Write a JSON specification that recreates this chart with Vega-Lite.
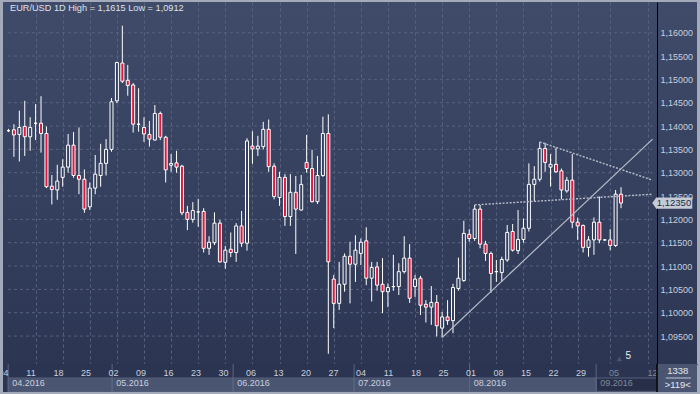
{
  "$schema": "https://vega.github.io/schema/vega-lite/v6.json",
  "autosize": {"type": "pad"},
  "padding": {"left": 3, "top": 2, "right": 3, "bottom": 2},
  "background": "#a3abbb",
  "spacing": 0,
  "bounds": "flush",
  "config": {
    "font": "Liberation Sans",
    "locale": {"number": {"decimal": ",", "thousands": ".", "grouping": [3], "currency": ["", " €"]}},
    "view": {"stroke": null},
    "axis": {"title": null}
  },
  "resolve": {"scale": {"x": "independent", "y": "independent"}},
  "datasets": {
    "candles": [
      {"i":0,"o":1.1390,"h":1.1394,"l":1.1387,"c":1.1390},
      {"i":1,"o":1.1392,"h":1.1404,"l":1.1334,"c":1.1381},
      {"i":2,"o":1.1382,"h":1.1433,"l":1.1324,"c":1.1397},
      {"i":3,"o":1.1399,"h":1.1454,"l":1.1336,"c":1.1377},
      {"i":4,"o":1.1377,"h":1.1419,"l":1.1347,"c":1.1397},
      {"i":5,"o":1.1406,"h":1.1447,"l":1.1370,"c":1.1406},
      {"i":6,"o":1.1406,"h":1.1464,"l":1.1343,"c":1.1384},
      {"i":7,"o":1.1384,"h":1.1399,"l":1.1267,"c":1.1270},
      {"i":8,"o":1.1271,"h":1.1295,"l":1.1232,"c":1.1264},
      {"i":9,"o":1.1263,"h":1.1317,"l":1.1242,"c":1.1282},
      {"i":10,"o":1.1290,"h":1.1329,"l":1.1270,"c":1.1312},
      {"i":11,"o":1.1312,"h":1.1383,"l":1.1300,"c":1.1359},
      {"i":12,"o":1.1359,"h":1.1387,"l":1.1289,"c":1.1294},
      {"i":13,"o":1.1294,"h":1.1397,"l":1.1254,"c":1.1286},
      {"i":14,"o":1.1286,"h":1.1307,"l":1.1214,"c":1.1222},
      {"i":15,"o":1.1227,"h":1.1279,"l":1.1220,"c":1.1267},
      {"i":16,"o":1.1267,"h":1.1338,"l":1.1254,"c":1.1297},
      {"i":17,"o":1.1294,"h":1.1362,"l":1.1270,"c":1.1320},
      {"i":18,"o":1.1320,"h":1.1372,"l":1.1294,"c":1.1350},
      {"i":19,"o":1.1350,"h":1.1460,"l":1.1345,"c":1.1452},
      {"i":20,"o":1.1454,"h":1.1538,"l":1.1449,"c":1.1536},
      {"i":21,"o":1.1535,"h":1.1615,"l":1.1492,"c":1.1496},
      {"i":22,"o":1.1498,"h":1.1531,"l":1.1465,"c":1.1487},
      {"i":23,"o":1.1488,"h":1.1492,"l":1.1386,"c":1.1404},
      {"i":24,"o":1.1404,"h":1.1481,"l":1.1388,"c":1.1404},
      {"i":25,"o":1.1397,"h":1.1419,"l":1.1366,"c":1.1383},
      {"i":26,"o":1.1382,"h":1.1411,"l":1.1356,"c":1.1372},
      {"i":27,"o":1.1370,"h":1.1445,"l":1.1369,"c":1.1427},
      {"i":28,"o":1.1427,"h":1.1431,"l":1.1370,"c":1.1376},
      {"i":29,"o":1.1376,"h":1.1379,"l":1.1279,"c":1.1306},
      {"i":30,"o":1.1316,"h":1.1340,"l":1.1302,"c":1.1320},
      {"i":31,"o":1.1321,"h":1.1347,"l":1.1300,"c":1.1312},
      {"i":32,"o":1.1314,"h":1.1317,"l":1.1209,"c":1.1214},
      {"i":33,"o":1.1215,"h":1.1229,"l":1.1177,"c":1.1200},
      {"i":34,"o":1.1200,"h":1.1237,"l":1.1193,"c":1.1219},
      {"i":35,"o":1.1216,"h":1.1244,"l":1.1184,"c":1.1216},
      {"i":36,"o":1.1217,"h":1.1224,"l":1.1129,"c":1.1138},
      {"i":37,"o":1.1138,"h":1.1164,"l":1.1124,"c":1.1151},
      {"i":38,"o":1.1150,"h":1.1215,"l":1.1145,"c":1.1192},
      {"i":39,"o":1.1192,"h":1.1199,"l":1.1107,"c":1.1109},
      {"i":40,"o":1.1108,"h":1.1143,"l":1.1094,"c":1.1134},
      {"i":41,"o":1.1136,"h":1.1172,"l":1.1119,"c":1.1129},
      {"i":42,"o":1.1129,"h":1.1192,"l":1.1109,"c":1.1186},
      {"i":43,"o":1.1186,"h":1.1218,"l":1.1141,"c":1.1149},
      {"i":44,"o":1.1149,"h":1.1374,"l":1.1133,"c":1.1368},
      {"i":45,"o":1.1357,"h":1.1389,"l":1.1319,"c":1.1351},
      {"i":46,"o":1.1351,"h":1.1379,"l":1.1336,"c":1.1357},
      {"i":47,"o":1.1356,"h":1.1409,"l":1.1350,"c":1.1393},
      {"i":48,"o":1.1393,"h":1.1414,"l":1.1302,"c":1.1313},
      {"i":49,"o":1.1314,"h":1.1320,"l":1.1243,"c":1.1249},
      {"i":50,"o":1.1247,"h":1.1302,"l":1.1229,"c":1.1290},
      {"i":51,"o":1.1290,"h":1.1297,"l":1.1186,"c":1.1206},
      {"i":52,"o":1.1206,"h":1.1297,"l":1.1186,"c":1.1258},
      {"i":53,"o":1.1258,"h":1.1293,"l":1.1126,"c":1.1222},
      {"i":54,"o":1.1220,"h":1.1295,"l":1.1219,"c":1.1275},
      {"i":55,"o":1.1322,"h":1.1381,"l":1.1300,"c":1.1309},
      {"i":56,"o":1.1309,"h":1.1349,"l":1.1236,"c":1.1238},
      {"i":57,"o":1.1238,"h":1.1336,"l":1.1233,"c":1.1294},
      {"i":58,"o":1.1294,"h":1.1420,"l":1.1291,"c":1.1384},
      {"i":59,"o":1.1384,"h":1.1425,"l":1.0912,"c":1.1109},
      {"i":60,"o":1.1072,"h":1.1081,"l":1.0967,"c":1.1020},
      {"i":61,"o":1.1020,"h":1.1109,"l":1.1006,"c":1.1061},
      {"i":62,"o":1.1061,"h":1.1127,"l":1.1045,"c":1.1121},
      {"i":63,"o":1.1121,"h":1.1152,"l":1.1020,"c":1.1104},
      {"i":64,"o":1.1104,"h":1.1166,"l":1.1066,"c":1.1134},
      {"i":65,"o":1.1127,"h":1.1159,"l":1.1102,"c":1.1151},
      {"i":66,"o":1.1154,"h":1.1183,"l":1.1059,"c":1.1074},
      {"i":67,"o":1.1074,"h":1.1109,"l":1.1024,"c":1.1097},
      {"i":68,"o":1.1098,"h":1.1109,"l":1.1047,"c":1.1059},
      {"i":69,"o":1.1061,"h":1.1117,"l":1.0999,"c":1.1045},
      {"i":70,"o":1.1045,"h":1.1063,"l":1.1012,"c":1.1054},
      {"i":71,"o":1.1056,"h":1.1124,"l":1.1047,"c":1.1056},
      {"i":72,"o":1.1056,"h":1.1106,"l":1.1038,"c":1.1088},
      {"i":73,"o":1.1088,"h":1.1164,"l":1.1084,"c":1.1117},
      {"i":74,"o":1.1117,"h":1.1147,"l":1.1021,"c":1.1031},
      {"i":75,"o":1.1056,"h":1.1081,"l":1.1034,"c":1.1072},
      {"i":76,"o":1.1074,"h":1.1079,"l":1.0995,"c":1.1016},
      {"i":77,"o":1.1018,"h":1.1027,"l":1.0979,"c":1.1012},
      {"i":78,"o":1.1012,"h":1.1057,"l":1.0974,"c":1.1022},
      {"i":79,"o":1.1022,"h":1.1038,"l":1.0949,"c":1.0972},
      {"i":80,"o":1.0967,"h":1.1002,"l":1.0947,"c":1.0991},
      {"i":81,"o":1.0991,"h":1.1027,"l":1.0974,"c":1.0983},
      {"i":82,"o":1.0983,"h":1.1062,"l":1.0956,"c":1.1054},
      {"i":83,"o":1.1052,"h":1.1118,"l":1.1047,"c":1.1074},
      {"i":84,"o":1.1069,"h":1.1197,"l":1.1066,"c":1.1170},
      {"i":85,"o":1.1168,"h":1.1179,"l":1.1152,"c":1.1159},
      {"i":86,"o":1.1159,"h":1.1231,"l":1.1154,"c":1.1222},
      {"i":87,"o":1.1222,"h":1.1231,"l":1.1138,"c":1.1147},
      {"i":88,"o":1.1147,"h":1.1154,"l":1.1111,"c":1.1127},
      {"i":89,"o":1.1127,"h":1.1131,"l":1.1043,"c":1.1084},
      {"i":90,"o":1.1088,"h":1.1113,"l":1.1066,"c":1.1088},
      {"i":91,"o":1.1086,"h":1.1120,"l":1.1066,"c":1.1114},
      {"i":92,"o":1.1113,"h":1.1188,"l":1.1109,"c":1.1172},
      {"i":93,"o":1.1174,"h":1.1190,"l":1.1131,"c":1.1134},
      {"i":94,"o":1.1133,"h":1.1220,"l":1.1126,"c":1.1157},
      {"i":95,"o":1.1157,"h":1.1202,"l":1.1150,"c":1.1181},
      {"i":96,"o":1.1181,"h":1.1320,"l":1.1174,"c":1.1275},
      {"i":97,"o":1.1275,"h":1.1314,"l":1.1238,"c":1.1286},
      {"i":98,"o":1.1286,"h":1.1366,"l":1.1281,"c":1.1352},
      {"i":99,"o":1.1352,"h":1.1364,"l":1.1302,"c":1.1322},
      {"i":100,"o":1.1312,"h":1.1340,"l":1.1270,"c":1.1318},
      {"i":101,"o":1.1318,"h":1.1354,"l":1.1300,"c":1.1302},
      {"i":102,"o":1.1304,"h":1.1309,"l":1.1243,"c":1.1263},
      {"i":103,"o":1.1261,"h":1.1291,"l":1.1257,"c":1.1284},
      {"i":104,"o":1.1284,"h":1.1340,"l":1.1181,"c":1.1194},
      {"i":105,"o":1.1194,"h":1.1204,"l":1.1156,"c":1.1186},
      {"i":106,"o":1.1187,"h":1.1189,"l":1.1129,"c":1.1140},
      {"i":107,"o":1.1140,"h":1.1164,"l":1.1120,"c":1.1156},
      {"i":108,"o":1.1156,"h":1.1204,"l":1.1124,"c":1.1194},
      {"i":109,"o":1.1194,"h":1.1249,"l":1.1149,"c":1.1156},
      {"i":110,"o":1.1156,"h":1.1158,"l":1.1154,"c":1.1156},
      {"i":111,"o":1.1156,"h":1.1179,"l":1.1134,"c":1.1144},
      {"i":112,"o":1.1144,"h":1.1263,"l":1.1141,"c":1.1254},
      {"i":113,"o":1.1254,"h":1.1269,"l":1.1224,"c":1.1235}
    ],
    "grid": [
      {"p":1.095},{"p":1.100},{"p":1.105},{"p":1.110},{"p":1.115},{"p":1.120},{"p":1.125},
      {"p":1.130},{"p":1.135},{"p":1.140},{"p":1.145},{"p":1.150},{"p":1.155},{"p":1.160}
    ],
    "solid": [{"i":80,"p":1.0947},{"i":118.82,"p":1.1372}],
    "dashed": [
      {"line":"upper","i":98,"p":1.1366},{"line":"upper","i":118.82,"p":1.1284},
      {"line":"lower","i":86,"p":1.1231},{"line":"lower","i":118.82,"p":1.1254}
    ],
    "last": [{"p":1.1235}],
    "marker": [{"label":"5"}],
    "heading": [{"label":"EUR/USD 1D High = 1,1615 Low = 1,0912"}],
    "days": [
      {"i":0,"label":"04","future":false},{"i":5,"label":"11","future":false},{"i":10,"label":"18","future":false},
      {"i":15,"label":"25","future":false},{"i":20,"label":"02","future":false},{"i":25,"label":"09","future":false},
      {"i":30,"label":"16","future":false},{"i":35,"label":"23","future":false},{"i":40,"label":"30","future":false},
      {"i":45,"label":"06","future":false},{"i":50,"label":"13","future":false},{"i":55,"label":"20","future":false},
      {"i":60,"label":"27","future":false},{"i":65,"label":"04","future":false},{"i":70,"label":"11","future":false},
      {"i":75,"label":"18","future":false},{"i":80,"label":"25","future":false},{"i":85,"label":"01","future":false},
      {"i":90,"label":"08","future":false},{"i":95,"label":"15","future":false},{"i":100,"label":"22","future":false},
      {"i":105,"label":"29","future":false},{"i":111,"label":"05","future":true},{"i":118,"label":"12","future":true}
    ],
    "months": [
      {"s":0.85,"e":19.75,"label":"04.2016","cur":false},
      {"s":19.75,"e":41.75,"label":"05.2016","cur":false},
      {"s":41.75,"e":63.75,"label":"06.2016","cur":false},
      {"s":63.75,"e":84.75,"label":"07.2016","cur":false},
      {"s":84.75,"e":107.75,"label":"08.2016","cur":false},
      {"s":107.75,"e":118.82,"label":"09.2016","cur":true}
    ],
    "info": [{"row":"d","label":"1338"},{"row":"m","label":">119<"}]
  },
  "vconcat": [
    {
      "width": 694,
      "height": 362,
      "view": {
        "fill": {"gradient": "linear", "x1": 0, "y1": 0, "x2": 0, "y2": 1,
          "stops": [{"offset": 0, "color": "#404b6a"}, {"offset": 0.5, "color": "#36415f"}, {"offset": 1, "color": "#2c3653"}]},
        "stroke": null
      },
      "resolve": {"axis": {"x": "independent", "y": "independent"}},
      "layer": [
        {
          "data": {"name": "grid"},
          "mark": {"type": "rule", "color": "#56627f", "strokeDash": [3, 3], "strokeWidth": 1},
          "encoding": {
            "y": {"field": "p", "type": "quantitative", "scale": {"domain": [1.08901, 1.16658], "nice": false, "zero": false}, "axis": null},
            "x": {"datum": -0.0909, "type": "quantitative", "scale": {"domain": [-0.0909, 126.09], "nice": false, "zero": false}, "axis": null},
            "x2": {"datum": 118.82}
          }
        },
        {
          "data": {"name": "candles"},
          "mark": {"type": "rule", "color": "#ffffff", "strokeWidth": 1},
          "encoding": {
            "x": {"field": "i", "type": "quantitative", "scale": {"domain": [-0.0909, 126.09], "nice": false, "zero": false},
              "axis": {"orient": "bottom", "values": [5,10,15,20,25,30,35,40,45,50,55,60,65,70,75,80,85,90,95,100,105,111,118],
                "grid": true, "gridColor": "#56627f", "gridDash": [3, 3], "gridWidth": 1,
                "labels": false, "ticks": false, "domain": true, "domainColor": "#000000", "domainWidth": 1, "title": null}},
            "y": {"field": "l", "type": "quantitative", "scale": {"domain": [1.08901, 1.16658], "nice": false, "zero": false},
              "axis": {"orient": "right", "offset": -40, "values": [1.095,1.1,1.105,1.11,1.115,1.12,1.125,1.13,1.135,1.14,1.145,1.15,1.155,1.16],
                "format": ".5f", "grid": false, "ticks": false, "domain": true, "domainColor": "#000000", "domainWidth": 1,
                "labelColor": "#c8cfdf", "labelFont": "Liberation Sans", "labelFontSize": 9, "labelPadding": 3, "labelAlign": "left", "labelBaseline": "middle", "title": null}},
            "y2": {"field": "h"}
          }
        },
        {
          "data": {"name": "candles"},
          "mark": {"type": "bar", "size": 3, "stroke": "#ffffff", "strokeWidth": 1},
          "encoding": {
            "x": {"field": "i", "type": "quantitative", "scale": {"domain": [-0.0909, 126.09], "nice": false, "zero": false}, "axis": null},
            "y": {"field": "o", "type": "quantitative", "scale": {"domain": [1.08901, 1.16658], "nice": false, "zero": false}, "axis": null},
            "y2": {"field": "c"},
            "fill": {"condition": {"test": "datum.c < datum.o", "value": "#e3173e"}, "value": "#35405e"}
          }
        },
        {
          "data": {"name": "solid"},
          "mark": {"type": "line", "color": "#b8bcc8", "strokeWidth": 1.2},
          "encoding": {
            "x": {"field": "i", "type": "quantitative", "scale": {"domain": [-0.0909, 126.09], "nice": false, "zero": false}, "axis": null},
            "y": {"field": "p", "type": "quantitative", "scale": {"domain": [1.08901, 1.16658], "nice": false, "zero": false}, "axis": null}
          }
        },
        {
          "data": {"name": "dashed"},
          "mark": {"type": "line", "color": "#b8bcc8", "strokeWidth": 1.4, "strokeDash": [2, 1.5]},
          "encoding": {
            "x": {"field": "i", "type": "quantitative", "scale": {"domain": [-0.0909, 126.09], "nice": false, "zero": false}, "axis": null},
            "y": {"field": "p", "type": "quantitative", "scale": {"domain": [1.08901, 1.16658], "nice": false, "zero": false}, "axis": null},
            "detail": {"field": "line", "type": "nominal"}
          }
        },
        {
          "data": {"name": "last"},
          "mark": {"type": "point", "shape": "M-1,0L-0.8,-0.28L1,-0.28L1,0.28L-0.8,0.28Z", "size": 1600, "filled": true, "fill": "#c5cad5", "opacity": 1, "strokeWidth": 0},
          "encoding": {
            "x": {"datum": 122.45, "type": "quantitative", "scale": {"domain": [-0.0909, 126.09], "nice": false, "zero": false}, "axis": null},
            "y": {"field": "p", "type": "quantitative", "scale": {"domain": [1.08901, 1.16658], "nice": false, "zero": false}, "axis": null}
          }
        },
        {
          "data": {"name": "last"},
          "mark": {"type": "text", "align": "left", "baseline": "middle", "fontSize": 9.5, "color": "#222c44", "font": "Liberation Sans"},
          "encoding": {
            "x": {"datum": 119.6, "type": "quantitative", "scale": {"domain": [-0.0909, 126.09], "nice": false, "zero": false}, "axis": null},
            "y": {"field": "p", "type": "quantitative", "scale": {"domain": [1.08901, 1.16658], "nice": false, "zero": false}, "axis": null},
            "text": {"field": "p", "type": "quantitative", "format": ".5f"}
          }
        },
        {
          "data": {"name": "marker"},
          "mark": {"type": "point", "shape": "triangle-up", "size": 28, "filled": true, "fill": "#4a5573", "opacity": 1},
          "encoding": {
            "x": {"datum": 112.7, "type": "quantitative", "scale": {"domain": [-0.0909, 126.09], "nice": false, "zero": false}, "axis": null},
            "y": {"datum": 1.0901, "type": "quantitative", "scale": {"domain": [1.08901, 1.16658], "nice": false, "zero": false}, "axis": null}
          }
        },
        {
          "data": {"name": "marker"},
          "mark": {"type": "text", "align": "left", "baseline": "middle", "fontSize": 10, "color": "#e8ecf4", "font": "Liberation Sans"},
          "encoding": {
            "x": {"datum": 113.8, "type": "quantitative", "scale": {"domain": [-0.0909, 126.09], "nice": false, "zero": false}, "axis": null},
            "y": {"datum": 1.0908, "type": "quantitative", "scale": {"domain": [1.08901, 1.16658], "nice": false, "zero": false}, "axis": null},
            "text": {"field": "label"}
          }
        },
        {
          "data": {"name": "heading"},
          "mark": {"type": "text", "align": "left", "baseline": "alphabetic", "dx": 2, "fontSize": 9.2, "color": "#dde2ec", "font": "Liberation Sans"},
          "encoding": {
            "x": {"datum": -0.0909, "type": "quantitative", "scale": {"domain": [-0.0909, 126.09], "nice": false, "zero": false}, "axis": null},
            "y": {"datum": 1.16459, "type": "quantitative", "scale": {"domain": [1.08901, 1.16658], "nice": false, "zero": false}, "axis": null},
            "text": {"field": "label"}
          }
        }
      ]
    },
    {
      "width": 694,
      "height": 28,
      "view": {"fill": "#2b3551", "stroke": null},
      "layer": [
        {
          "data": {"name": "months"},
          "mark": {"type": "rect", "stroke": "#56617c", "strokeWidth": 1},
          "encoding": {
            "x": {"field": "s", "type": "quantitative", "scale": {"domain": [-0.0909, 126.09], "nice": false, "zero": false}, "axis": null},
            "x2": {"field": "e"},
            "y": {"datum": "m", "type": "nominal", "scale": {"type": "band", "domain": ["d", "m"], "paddingInner": 0, "paddingOuter": 0.05}, "axis": null},
            "fill": {"condition": {"test": "datum.cur", "value": "#283049"}, "value": "#4a5572"}
          }
        },
        {
          "data": {"name": "months"},
          "mark": {"type": "rule", "color": "#5b6681", "strokeWidth": 1},
          "encoding": {
            "x": {"field": "s", "type": "quantitative", "scale": {"domain": [-0.0909, 126.09], "nice": false, "zero": false}, "axis": null}
          }
        },
        {
          "data": {"name": "days"},
          "mark": {"type": "text", "fontSize": 9, "dy": 1.4, "clip": true, "font": "Liberation Sans"},
          "encoding": {
            "x": {"field": "i", "type": "quantitative", "scale": {"domain": [-0.0909, 126.09], "nice": false, "zero": false}, "axis": null},
            "y": {"datum": "d", "type": "nominal", "scale": {"type": "band", "domain": ["d", "m"], "paddingInner": 0, "paddingOuter": 0.05}, "axis": null},
            "text": {"field": "label"},
            "color": {"condition": {"test": "datum.future", "value": "#7f889b"}, "value": "#c9d0df"}
          }
        },
        {
          "data": {"name": "months"},
          "mark": {"type": "text", "fontSize": 9, "align": "left", "dx": 4, "dy": -1.2, "font": "Liberation Sans"},
          "encoding": {
            "x": {"field": "s", "type": "quantitative", "scale": {"domain": [-0.0909, 126.09], "nice": false, "zero": false}, "axis": null},
            "y": {"datum": "m", "type": "nominal", "scale": {"type": "band", "domain": ["d", "m"], "paddingInner": 0, "paddingOuter": 0.05}, "axis": null},
            "text": {"field": "label"},
            "color": {"condition": {"test": "datum.cur", "value": "#7f889b"}, "value": "#c9d0df"}
          }
        },
        {
          "data": {"name": "info"},
          "mark": {"type": "rect", "fill": "#4a5572"},
          "encoding": {
            "x": {"datum": 118.82, "type": "quantitative", "scale": {"domain": [-0.0909, 126.09], "nice": false, "zero": false}, "axis": null},
            "x2": {"datum": 126.09}
          }
        },
        {
          "data": {"name": "info"},
          "mark": {"type": "rule", "color": "#000000", "strokeWidth": 1},
          "encoding": {
            "x": {"datum": 118.82, "type": "quantitative", "scale": {"domain": [-0.0909, 126.09], "nice": false, "zero": false}, "axis": null}
          }
        },
        {
          "data": {"name": "info"},
          "mark": {"type": "text", "fontSize": 9.5, "color": "#e4e8f0", "font": "Liberation Sans"},
          "encoding": {
            "x": {"datum": 122.6, "type": "quantitative", "scale": {"domain": [-0.0909, 126.09], "nice": false, "zero": false}, "axis": null},
            "y": {"field": "row", "type": "nominal", "scale": {"type": "band", "domain": ["d", "m"], "paddingInner": 0, "paddingOuter": 0.05}, "axis": null},
            "text": {"field": "label"}
          }
        },
        {
          "data": {"name": "marker"},
          "mark": {"type": "rule", "color": "#c0c6d4", "strokeWidth": 1},
          "encoding": {
            "x": {"datum": 120.4, "type": "quantitative", "scale": {"domain": [-0.0909, 126.09], "nice": false, "zero": false}, "axis": null},
            "x2": {"datum": 125.0},
            "y": {"datum": "m", "type": "nominal", "scale": {"type": "band", "domain": ["d", "m"], "paddingInner": 0, "paddingOuter": 0.05}, "bandPosition": 0, "axis": null}
          }
        }
      ]
    }
  ]
}
